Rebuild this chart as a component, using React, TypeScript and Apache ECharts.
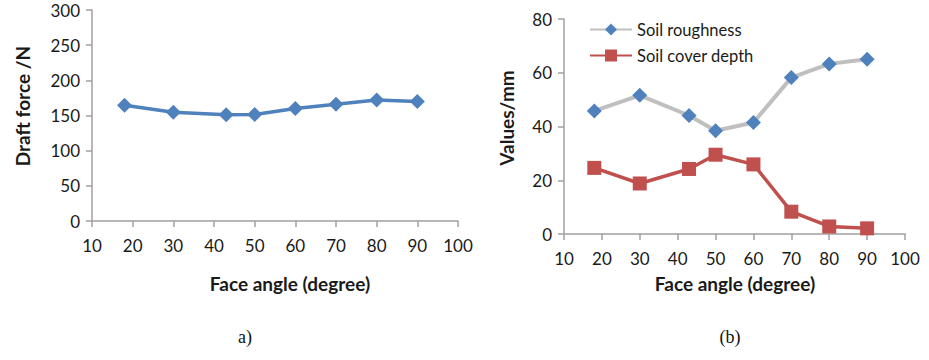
import React, { useEffect, useRef } from "react";
import * as echarts from "echarts";

const faceAngleA = [18, 30, 43, 50, 60, 70, 80, 90];
const draftForce = [164.5, 154.5, 151, 151.5, 160, 166, 172, 170];

const faceAngleB = [18, 30, 43, 50, 60, 70, 80, 90];
const soilRoughness = [45.8, 51.6, 44.1, 38.4, 41.5, 58.2, 63.3, 65];
const soilCoverDepth = [24.6, 18.8, 24.2, 29.5, 25.9, 8.3, 2.8, 2.1];

const FONT = "Lato, 'Open Sans', sans-serif";
const TXT = "#1a1a1a";
const AX = "#a0a0a0";

function zip(xs: number[], ys: number[]) {
  return xs.map((x, i) => [x, ys[i]]);
}

export default function App() {
  const ref = useRef<HTMLDivElement>(null);
  useEffect(() => {
    if (!ref.current) return;
    const chart = echarts.init(ref.current, null, { renderer: "svg" });
    const axisLine = { show: true, lineStyle: { color: AX, width: 1.5 } };
    const axisTick = { show: true, length: 6, lineStyle: { color: AX, width: 1.5 } };
    const label = { color: TXT, fontFamily: FONT, fontSize: 17 };
    const xAxisBase = {
      type: "value",
      min: 10,
      max: 100,
      interval: 10,
      axisLine,
      axisTick,
      splitLine: { show: false },
    };
    const titleFont = `bold 19px ${FONT}`;
    chart.setOption({
      animation: false,
      grid: [
        { left: 92, top: 10, width: 366, height: 211 },
        { left: 564, top: 19, width: 341, height: 215 },
      ],
      xAxis: [
        { ...xAxisBase, gridIndex: 0, axisLabel: { ...label, margin: 16 } },
        { ...xAxisBase, gridIndex: 1, axisLabel: { ...label, margin: 16 } },
      ],
      yAxis: [
        {
          type: "value",
          gridIndex: 0,
          min: 0,
          max: 300,
          interval: 50,
          axisLine,
          axisTick,
          splitLine: { show: false },
          axisLabel: { ...label, margin: 12 },
        },
        {
          type: "value",
          gridIndex: 1,
          min: 0,
          max: 80,
          interval: 20,
          axisLine,
          axisTick,
          splitLine: { show: false },
          axisLabel: { ...label, margin: 12 },
        },
      ],
      legend: {
        orient: "vertical",
        left: 584,
        top: 16,
        itemWidth: 42,
        itemHeight: 15,
        itemGap: 9,
        data: ["Soil roughness", "Soil cover depth"],
        textStyle: { color: TXT, fontFamily: FONT, fontSize: 16.5 },
      },
      series: [
        {
          name: "Draft force",
          type: "line",
          xAxisIndex: 0,
          yAxisIndex: 0,
          data: zip(faceAngleA, draftForce),
          symbol: "diamond",
          symbolSize: 15,
          lineStyle: { color: "#4F81BD", width: 3.5 },
          itemStyle: { color: "#4F81BD" },
        },
        {
          name: "Soil roughness",
          type: "line",
          xAxisIndex: 1,
          yAxisIndex: 1,
          data: zip(faceAngleB, soilRoughness),
          symbol: "diamond",
          symbolSize: 15,
          lineStyle: { color: "#BFBFBF", width: 4 },
          itemStyle: { color: "#4F81BD" },
        },
        {
          name: "Soil cover depth",
          type: "line",
          xAxisIndex: 1,
          yAxisIndex: 1,
          data: zip(faceAngleB, soilCoverDepth),
          symbol: "rect",
          symbolSize: 14,
          lineStyle: { color: "#C0504D", width: 3.5 },
          itemStyle: { color: "#C0504D" },
        },
      ],
      graphic: [
        {
          type: "text",
          x: 22,
          y: 106,
          rotation: Math.PI / 2,
          style: { text: "Draft force /N", fill: TXT, font: titleFont, align: "center", verticalAlign: "middle" },
        },
        {
          type: "text",
          x: 506,
          y: 118,
          rotation: Math.PI / 2,
          style: { text: "Values/mm", fill: TXT, font: titleFont, align: "center", verticalAlign: "middle" },
        },
        {
          type: "text",
          x: 290,
          y: 283,
          style: { text: "Face angle (degree)", fill: TXT, font: titleFont, align: "center", verticalAlign: "middle" },
        },
        {
          type: "text",
          x: 735,
          y: 283,
          style: { text: "Face angle (degree)", fill: TXT, font: titleFont, align: "center", verticalAlign: "middle" },
        },
        {
          type: "text",
          x: 245,
          y: 337,
          style: { text: "a)", fill: "#111", font: "18px 'Liberation Serif', serif", align: "center", verticalAlign: "middle" },
        },
        {
          type: "text",
          x: 730,
          y: 337,
          style: { text: "(b)", fill: "#111", font: "18px 'Liberation Serif', serif", align: "center", verticalAlign: "middle" },
        },
      ],
    });
    return () => chart.dispose();
  }, []);
  return (
    <div
      ref={ref}
      style={{ position: "absolute", left: 0, top: 0, width: 929, height: 360, background: "#fff" }}
    />
  );
}
